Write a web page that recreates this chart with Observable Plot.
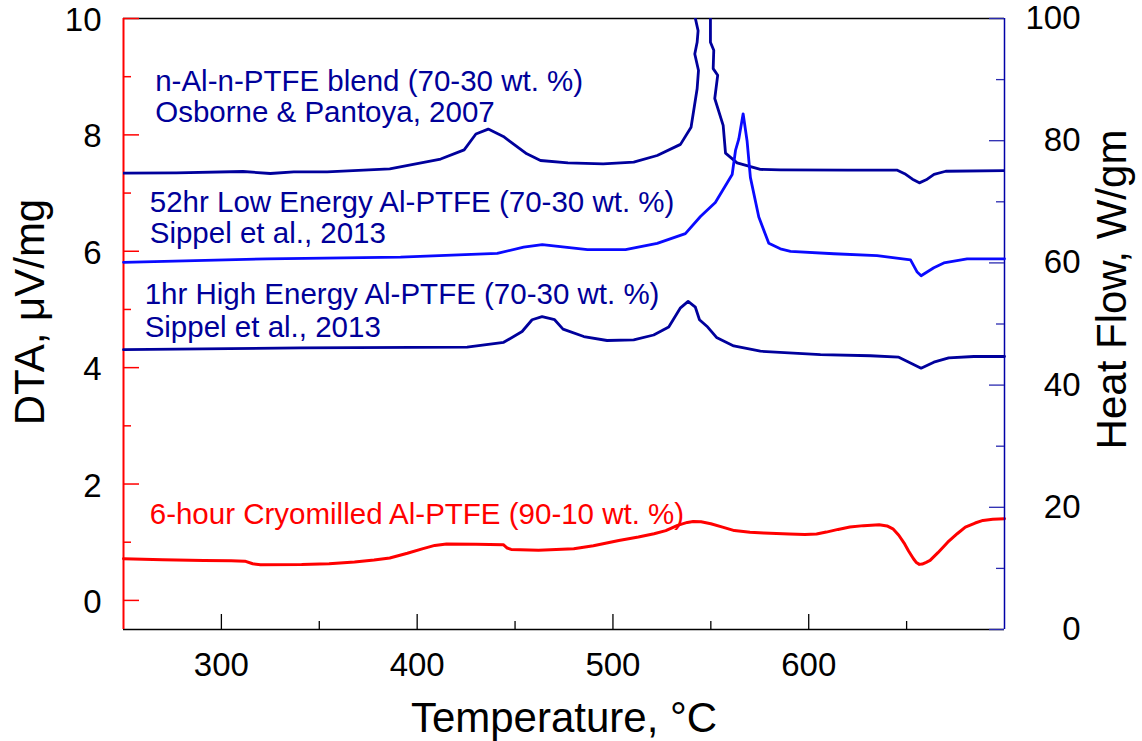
<!DOCTYPE html>
<html><head><meta charset="utf-8">
<script src="https://cdn.jsdelivr.net/npm/d3@7"></script>
<script src="https://cdn.jsdelivr.net/npm/@observablehq/plot@0.6"></script>
<style>
body{margin:0;background:#fff;color:#000;}
#wrap{position:relative;width:1142px;height:741px;}
#wrap svg{position:absolute;left:0;top:0;}
</style></head><body><div id="wrap"></div>
<script>
// ---- axes / ticks ----
const xDomain = [250, 700];
const dtaDomain = [-0.5, 10];
const hfDomain = [0, 100];
const xMajorTicks = [300, 400, 500, 600];
const xMinorTicks = [350, 450, 550, 650];
const dtaMajorTicks = [0, 2, 4, 6, 8, 10];
const dtaMinorTicks = [1, 3, 5, 7, 9];
const hfMajorTicks = [0, 20, 40, 60, 80, 100];
const hfMinorTicks = [10, 30, 50, 70, 90];

// ---- 6-hour Cryomilled Al-PTFE (90-10 wt. %), DTA µV/mg (left axis) ----
const cryoT   = [250, 270, 291, 305, 312, 316, 320, 341, 355, 368, 378, 386, 395, 403, 409, 415, 430, 444, 446, 448, 462, 480, 490, 503, 513, 521, 527, 533, 538, 541, 545, 550, 556, 562, 570, 577, 590, 598, 604, 609, 615, 621, 628, 636, 640, 643, 646, 649, 651, 653.5, 655, 656.5, 658, 660, 662, 666, 671, 676, 680, 685, 689, 694, 700];
const cryoDTA = [0.716, 0.70, 0.687, 0.68, 0.675, 0.63, 0.613, 0.615, 0.63, 0.66, 0.695, 0.73, 0.81, 0.89, 0.945, 0.97, 0.965, 0.957, 0.90, 0.876, 0.86, 0.888, 0.94, 1.03, 1.09, 1.146, 1.2, 1.29, 1.34, 1.357, 1.35, 1.318, 1.26, 1.20, 1.17, 1.157, 1.14, 1.134, 1.14, 1.174, 1.22, 1.26, 1.285, 1.30, 1.28, 1.23, 1.12, 0.97, 0.85, 0.716, 0.65, 0.619, 0.625, 0.655, 0.687, 0.82, 1.0, 1.15, 1.26, 1.33, 1.375, 1.395, 1.405];

// ---- n-Al-n-PTFE blend (Osborne & Pantoya 2007), Heat Flow W/gm (right axis) ----
const blendT  = [250, 277, 311, 325, 337, 354, 386, 412, 424, 430, 436.3, 444, 456, 463, 477, 495, 510.6, 522.6, 534.5, 539.9, 543, 543.7, 541.8, 543, 543.5, 541.9, 546, 549.8, 549.8, 551.5, 551.2, 553.5, 552, 556.3, 557.5, 563.4, 575.3, 585.5, 620, 645, 649, 653, 656.5, 660, 664, 670, 700];
const blendHF = [74.68, 74.74, 74.96, 74.63, 74.9, 74.9, 75.4, 77.0, 78.5, 81.1, 81.9, 80.7, 77.85, 76.76, 76.38, 76.2, 76.48, 77.58, 79.4, 82.2, 88.5, 91.5, 94.2, 96.1, 98.0, 100.3, null, 100.3, 96.1, 94.8, 91.8, 90.7, 86.9, 82.5, 77.96, 76.38, 75.3, 75.24, 75.2, 75.2, 74.6, 73.7, 73.1, 73.6, 74.5, 75.0, 75.1];

// ---- 52hr Low Energy Al-PTFE (Sippel et al. 2013) ----
const lowT  = [250, 323.4, 391.5, 440.9, 454.4, 463.9, 487, 506.4, 522.6, 537, 544.7, 552.3, 560.9, 562.6, 564.3, 566.5, 568.5, 570.2, 574.5, 579.6, 585.5, 590.7, 612.8, 634.9, 652, 655.4, 657.4, 663.9, 669, 680.9, 700];
const lowHF = [60.1, 60.66, 60.94, 61.55, 62.57, 63.0, 62.16, 62.16, 63.2, 64.8, 67.6, 69.9, 74.47, 78.4, 80.3, 84.4, 80.0, 74.0, 67.5, 63.2, 62.3, 61.9, 61.5, 61.2, 60.5, 58.5, 57.9, 59.2, 60.0, 60.67, 60.67];

// ---- 1hr High Energy Al-PTFE (Sippel et al. 2013) ----
const highT  = [250, 340.4, 425.5, 444.2, 453.6, 458.7, 463.8, 470.2, 474.5, 485.1, 497, 510.6, 520.8, 528.5, 534.5, 538.4, 542.1, 544.2, 548.4, 552.9, 561.7, 575.3, 606, 631.5, 646, 657.4, 663.9, 671.5, 684.3, 700];
const highHF = [45.8, 46.1, 46.2, 47.0, 48.77, 50.7, 51.2, 50.7, 49.15, 47.95, 47.3, 47.4, 48.2, 49.5, 52.65, 53.7, 52.75, 50.7, 49.5, 47.8, 46.4, 45.55, 45.0, 44.8, 44.57, 42.77, 43.75, 44.47, 44.68, 44.68];

// ---- text labels ----
const blueLabelText = ["n-Al-n-PTFE blend (70-30 wt. %)", "Osborne & Pantoya, 2007",
  "52hr Low Energy Al-PTFE (70-30 wt. %)", "Sippel et al., 2013",
  "1hr High Energy Al-PTFE (70-30 wt. %)", "Sippel et al., 2013"];
const blueLabelT = [266.2, 266.2, 263.4, 263.4, 260.8, 260.8];
const blueLabelHF = [88.2, 83.1, 68.25, 63.2, 53.2, 47.95];
const redLabelText = ["6-hour Cryomilled Al-PTFE (90-10 wt. %)"];
const redLabelT = [263.4];
const redLabelDTA = [1.32];
const xTitle = "Temperature, °C";
const leftTitle = "DTA, μV/mg";
const rightTitle = "Heat Flow, W/gm";

const zip = (a, b) => a.map((t, i) => ({t, v: b[i]}));
const cryo = zip(cryoT, cryoDTA);
const blend = zip(blendT, blendHF);
const low = zip(lowT, lowHF);
const high = zip(highT, highHF);
const blueLabels = blueLabelText.map((s, i) => ({s, t: blueLabelT[i], v: blueLabelHF[i]}));
const redLabels = redLabelText.map((s, i) => ({s, t: redLabelT[i], v: redLabelDTA[i]}));

const FONT = "'Liberation Sans', Arial, Helvetica, sans-serif";
const W = 1142, H = 741, ML = 123, MR = 138, MT = 18, MB = 112;
const innerW = W - ML - MR, innerH = H - MT - MB;
const common = {width: W, height: H, marginLeft: ML, marginRight: MR, marginTop: MT, marginBottom: MB,
  style: {background: "transparent", fontFamily: FONT, overflow: "visible", color: "#000"}};
const RED = "#ff0000", DARK = "#00009c", BRIGHT = "#0a0aff", TXT = "#000099", AXB = "#0000a8";

const left = Plot.plot({
  ...common,
  x: {domain: xDomain},
  y: {domain: dtaDomain},
  marks: [
    Plot.ruleY([dtaDomain[1]], {stroke: "#000", strokeWidth: 1.3}),
    Plot.ruleY([dtaDomain[0]], {stroke: "#000", strokeWidth: 1.5}),
    Plot.tickX(xMajorTicks, {x: d => d, stroke: "#000", strokeWidth: 1.3, insetTop: innerH - 15}),
    Plot.tickX(xMinorTicks, {x: d => d, stroke: "#000", strokeWidth: 1.3, insetTop: innerH - 8}),
    Plot.tickY(dtaMajorTicks, {y: d => d, stroke: RED, strokeWidth: 1.5, insetRight: innerW - 16}),
    Plot.tickY(dtaMinorTicks, {y: d => d, stroke: RED, strokeWidth: 1.5, insetRight: innerW - 8}),
    Plot.ruleX([xDomain[0]], {stroke: RED, strokeWidth: 2}),
    Plot.axisX({ticks: xMajorTicks, tickSize: 0, tickPadding: 23, fontSize: 33, label: null, fill: "#000"}),
    Plot.axisY({ticks: dtaMajorTicks, anchor: "left", tickSize: 0, tickPadding: 22, fontSize: 33, label: null, fill: "#000", dy: 2}),
    Plot.line(cryo, {x: "t", y: "v", stroke: RED, strokeWidth: 3}),
    Plot.text(redLabels, {x: "t", y: "v", text: "s", textAnchor: "start", lineAnchor: "bottom", fill: RED, fontSize: 29.5}),
    Plot.text([xTitle], {frameAnchor: "bottom", textAnchor: "middle", lineAnchor: "bottom", dy: 102, fontSize: 42, fill: "#000"}),
    Plot.text([leftTitle], {frameAnchor: "left", textAnchor: "middle", rotate: -90, lineAnchor: "bottom", dx: -80, dy: -12, fontSize: 42, fill: "#000"})
  ]
});

const right = Plot.plot({
  ...common,
  x: {domain: xDomain, axis: null},
  y: {domain: hfDomain},
  marks: [
    Plot.ruleX([xDomain[1]], {stroke: AXB, strokeWidth: 1.5}),
    Plot.tickY(hfMajorTicks, {y: d => d, stroke: "#2a2ab0", strokeWidth: 1.3, insetLeft: innerW - 15}),
    Plot.tickY(hfMinorTicks, {y: d => d, stroke: "#2a2ab0", strokeWidth: 1.3, insetLeft: innerW - 8}),
    Plot.axisY({ticks: hfMajorTicks, anchor: "right", tickSize: 0, tickPadding: 76, textAnchor: "end", fontSize: 33, label: null, fill: "#000"}),
    Plot.line(blend, {x: "t", y: "v", stroke: DARK, strokeWidth: 2.8, clip: true}),
    Plot.line(low, {x: "t", y: "v", stroke: BRIGHT, strokeWidth: 2.8}),
    Plot.line(high, {x: "t", y: "v", stroke: DARK, strokeWidth: 2.8}),
    Plot.text(blueLabels, {x: "t", y: "v", text: "s", textAnchor: "start", lineAnchor: "bottom", fill: TXT, fontSize: 29.5}),
    Plot.text([rightTitle], {frameAnchor: "right", textAnchor: "middle", rotate: -90, lineAnchor: "bottom", dx: 121, dy: -34.5, fontSize: 42, fill: "#000"})
  ]
});

document.getElementById("wrap").append(left, right);
</script></body></html>
